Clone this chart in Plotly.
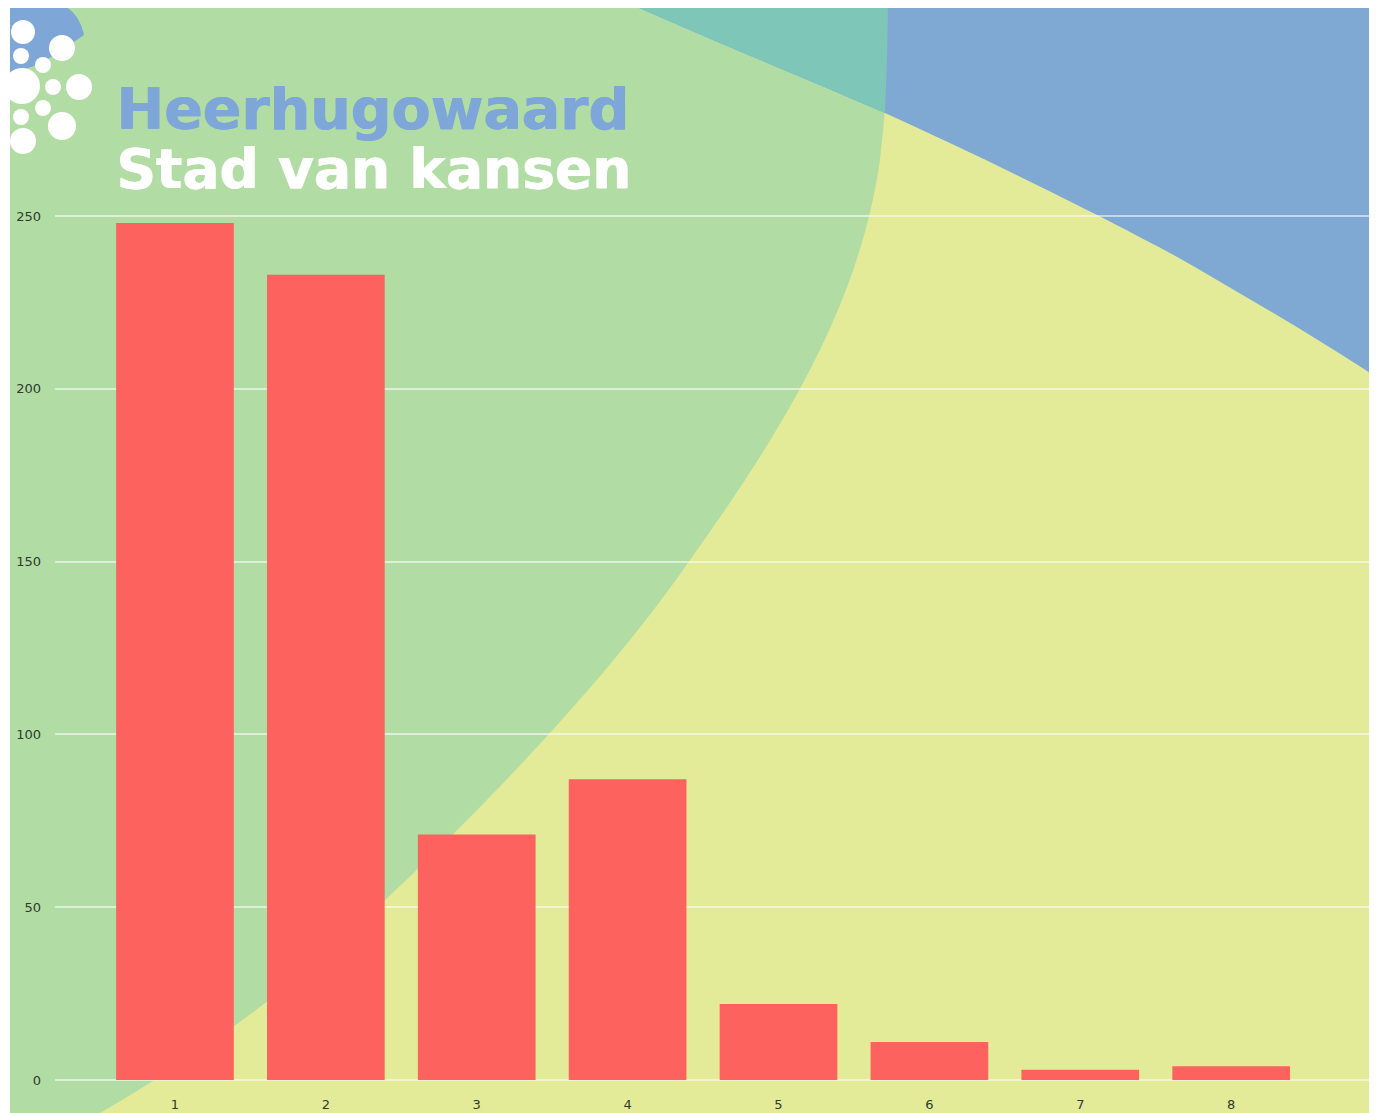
import plotly.graph_objects as go

# ---- data ----
categories = ["1", "2", "3", "4", "5", "6", "7", "8"]
counts = [248, 233, 71, 87, 22, 11, 3, 4]
y_tick_values = [0, 50, 100, 150, 200, 250]
logo_line1 = "Heerhugowaard"
logo_line2 = "Stad van kansen"

# ---- layout geometry (pixels) ----
OFF = 8  # page body margin
W, H = 1377 - OFF, 1113 - OFF
ML, MR, MT, MB = 55 - OFF, 4, 0, 33
PW, PH = W - ML - MR, H - MT - MB
PX_PER_UNIT = 864 / 250.0
Y_MAX = PH / PX_PER_UNIT
X_RANGE = [0.205, 8.94]


def px(x):
    return (x - OFF - ML) / PW


def py(y):
    return (H - MB - (y - OFF)) / PH


def path(cmds):
    out = []
    for c in cmds:
        op, pts = c[0], c[1:]
        if op == "Z":
            out.append("Z")
        else:
            out.append(op + " " + " ".join(f"{px(a):.5f},{py(b):.5f}" for a, b in pts))
    return " ".join(out)


GREEN = "#B1DDA4"
YELLOW = "#E3EB98"
BLUE = "#7FA9D2"
TEAL = "#7EC6B8"
BAR = "#FD625E"
LOGO_BLUE = "#7EA6D9"

shapes = []
# yellow base
shapes.append(dict(type="rect", xref="paper", yref="paper", x0=px(10), x1=px(1373),
                   y0=py(1113), y1=py(4), fillcolor=YELLOW, line_width=0, layer="below"))
# green ellipse area
green_path = path([
    ("M", (10, 4)), ("L", (888, 4)),
    ("C", (887, 80), (886, 110), (880, 160)),
    ("C", (860, 300), (790, 420), (690, 560)),
    ("C", (600, 690), (470, 820), (380, 905)),
    ("C", (290, 990), (200, 1055), (100, 1113)),
    ("L", (10, 1113)), ("Z",),
])
shapes.append(dict(type="path", xref="paper", yref="paper", path=green_path,
                   fillcolor=GREEN, line_width=0, layer="below"))
# blue top-right area
blue_path = path([
    ("M", (630, 4)),
    ("C", (720, 44), (800, 76), (885, 113)),
    ("C", (1000, 165), (1150, 240), (1200, 270)),
    ("C", (1260, 305), (1320, 340), (1373, 375)),
    ("L", (1373, 4)), ("Z",),
])
shapes.append(dict(type="path", xref="paper", yref="paper", path=blue_path,
                   fillcolor=BLUE, line_width=0, layer="below"))
# teal overlap
teal_path = path([
    ("M", (630, 4)),
    ("C", (720, 44), (800, 76), (885, 113)),
    ("L", (887, 60)), ("L", (888, 4)), ("Z",),
])
shapes.append(dict(type="path", xref="paper", yref="paper", path=teal_path,
                   fillcolor=TEAL, line_width=0, layer="below"))
# logo blue arc
logo_blue = path([
    ("M", (10, 4)), ("L", (60, 4)),
    ("C", (72, 8), (81, 20), (84, 35)),
    ("L", (62, 50)), ("L", (40, 64)), ("L", (10, 74)), ("Z",),
])
shapes.append(dict(type="path", xref="paper", yref="paper", path=logo_blue,
                   fillcolor="#7EA6D6", line_width=0, layer="below"))
# logo white dots (cx, cy, r)
dots = [(23, 32, 12), (62, 48, 13), (21, 56, 8), (43, 65, 8), (22, 86, 18),
        (53, 87, 8), (79, 87, 13), (43, 108, 8), (21, 117, 8), (62, 126, 14),
        (23, 141, 13)]
for cx, cy, r in dots:
    shapes.append(dict(type="circle", xref="paper", yref="paper",
                       x0=px(cx - r), x1=px(cx + r), y0=py(cy + r), y1=py(cy - r),
                       fillcolor="white", line_width=0, layer="below"))
# white left strip
shapes.append(dict(type="rect", xref="paper", yref="paper", x0=px(0), x1=px(10),
                   y0=py(1113), y1=py(0), fillcolor="white", line_width=0, layer="below"))

x_pos = list(range(1, len(categories) + 1))

fig = go.Figure()
fig.add_trace(go.Bar(x=x_pos, y=counts, marker=dict(color=BAR, line_width=0),
                     width=0.78, showlegend=False))

fig.update_layout(
    width=W, height=H,
    margin=dict(l=ML, r=MR, t=MT, b=MB, pad=0),
    paper_bgcolor="white",
    plot_bgcolor="rgba(0,0,0,0)",
    shapes=shapes,
    font=dict(family="DejaVu Sans", size=13, color="#333333"),
    annotations=[
        dict(text=logo_line1, xref="paper", yref="paper", x=px(114), y=py(109),
             xanchor="left", yanchor="middle", showarrow=False,
             font=dict(family="DejaVu Sans", size=57, color=LOGO_BLUE, weight="bold",
                       shadow=f"1px 0px 0px {LOGO_BLUE}")),
        dict(text=logo_line2, xref="paper", yref="paper", x=px(114), y=py(169),
             xanchor="left", yanchor="middle", showarrow=False,
             font=dict(family="DejaVu Sans", size=55, color="white", weight="bold",
                       shadow="1px 0px 0px white")),
    ],
)
fig.update_xaxes(range=X_RANGE, tickvals=x_pos, ticktext=categories, showgrid=False,
                 zeroline=False, showline=False, ticks="", ticklabelstandoff=15,
                 tickfont=dict(family="DejaVu Sans", size=13, color="#2f3a2f"))
fig.update_yaxes(range=[0, Y_MAX], tickvals=y_tick_values, showgrid=True,
                 gridcolor="rgba(255,255,255,0.55)", gridwidth=2,
                 zeroline=True, zerolinecolor="rgba(255,255,255,0.55)", zerolinewidth=2,
                 showline=False, ticks="", ticklabelstandoff=13,
                 tickfont=dict(family="DejaVu Sans", size=13, color="#2f3a2f"))

fig.write_html("out.html")
